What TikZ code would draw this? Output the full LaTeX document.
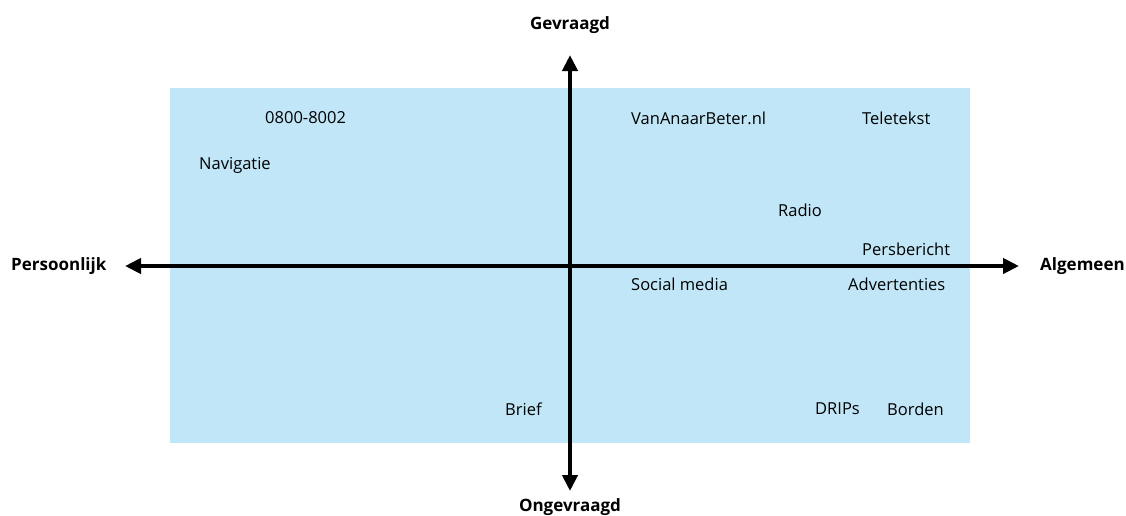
\documentclass[tikz,border=0pt]{standalone}
\usepackage{fontspec}
\setmainfont{Open Sans}
\usetikzlibrary{arrows.meta}
\definecolor{quadbg}{RGB}{192,230,247}
\tikzset{
  axis/.style={line width=4pt, -{Triangle[length=16pt,width=15pt]}, shorten >=-2pt},
  item/.style={anchor=west, inner sep=0pt, font=\fontsize{16.5}{19}\selectfont},
  pole/.style={inner sep=0pt, font=\fontsize{17}{20}\selectfont\bfseries}
}
\begin{document}
\begin{tikzpicture}[x=1pt,y=-1pt]
  \useasboundingbox (0,0) rectangle (1126,515);
  % quadrant field
  \fill[quadbg] (170,88) rectangle (970,443);
  % axis end points
  \coordinate (o) at (570,266);
  \coordinate (top) at (570,57);
  \coordinate (bot) at (570,489);
  \coordinate (lft) at (127,266);
  \coordinate (rgt) at (1017,266);
  \draw[axis] (o) -- (top);
  \draw[axis] (o) -- (bot);
  \draw[axis] (o) -- (lft);
  \draw[axis] (o) -- (rgt);
  % pole labels
  \node[pole] (gev) at (570,25) {Gevraagd};
  \node[pole] (ongev) at (570,507) {Ongevraagd};
  \node[pole, anchor=west] (pers) at (11,266) {Persoonlijk};
  \node[pole, anchor=west] (alg) at (1040,266) {Algemeen};
  % channels
  \node[item] (n1) at (265,118) {0800-8002};
  \node[item] (n2) at (199,165) {Navigatie};
  \node[item] (n3) at (631,118) {VanAnaarBeter.nl};
  \node[item] (n4) at (862,118) {Teletekst};
  \node[item] (n5) at (778,210) {Radio};
  \node[item] (n6) at (862,249) {Persbericht};
  \node[item] (n7) at (631,284) {Social media};
  \node[item] (n8) at (848,284) {Advertenties};
  \node[item] (n9) at (505,409) {Brief};
  \node[item] (n10) at (815,409) {DRIPs};
  \node[item] (n11) at (887,409) {Borden};
\end{tikzpicture}
\end{document}
